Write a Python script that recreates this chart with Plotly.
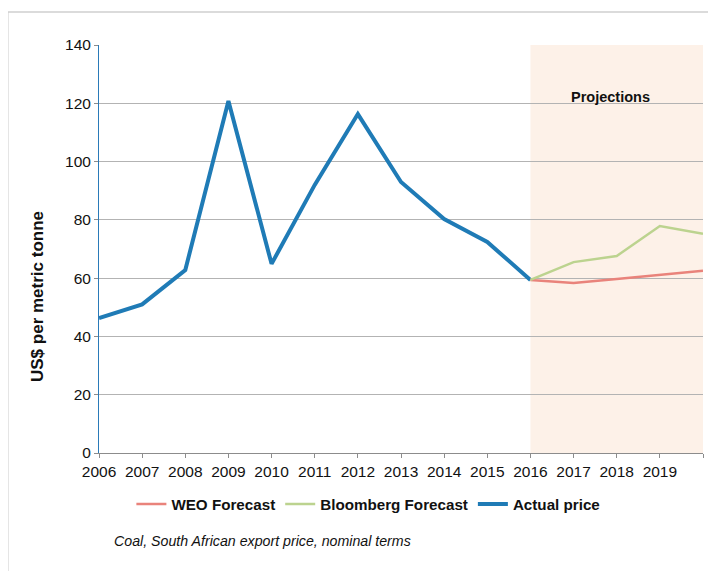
import plotly.graph_objects as go

# Coal, South African export price (US$ per metric tonne)
years_actual = [2006, 2007, 2008, 2009, 2010, 2011, 2012, 2013, 2014, 2015, 2016]
actual_price = [46.3, 51.0, 62.8, 120.8, 64.9, 92.0, 116.3, 93.0, 80.3, 72.4, 59.4]

years_forecast = [2016, 2017, 2018, 2019, 2020]
weo_forecast = [59.4, 58.3, 59.7, 61.0, 62.5]
bloomberg_forecast = [59.4, 65.5, 67.6, 77.9, 75.2]

tick_years = list(range(2006, 2021))
tick_labels = [str(y) for y in range(2006, 2020)] + [""]

font_main = "Liberation Sans, Arial, sans-serif"

fig = go.Figure()

fig.add_trace(go.Scatter(x=years_actual, y=actual_price, mode="lines",
                         name="Actual price", legendrank=3,
                         line=dict(color="#1f7bb6", width=4)))
fig.add_trace(go.Scatter(x=years_forecast, y=weo_forecast, mode="lines",
                         name="WEO Forecast", legendrank=1,
                         line=dict(color="#e9837b", width=2.5)))
fig.add_trace(go.Scatter(x=years_forecast, y=bloomberg_forecast, mode="lines",
                         name="Bloomberg Forecast", legendrank=2,
                         line=dict(color="#bcd38f", width=2.5)))

# projections shading
fig.add_shape(type="rect", x0=2016, x1=2020, y0=0, y1=140, xref="x", yref="y",
              fillcolor="#fdf1e8", line_width=0, layer="below")
fig.add_annotation(x=2017.85, y=122, xref="x", yref="y", text="<b>Projections</b>",
                   showarrow=False, font=dict(family=font_main, size=14.5, color="#111111"))

# outer chart frame (top and left edges visible)
fig.add_shape(type="line", xref="paper", yref="paper", x0=-0.151, x1=1.05,
              y0=1.081, y1=1.081, line=dict(color="#cfcfcf", width=1.5))
fig.add_shape(type="line", xref="paper", yref="paper", x0=-0.151, x1=-0.151,
              y0=1.081, y1=-0.35, line=dict(color="#cfcfcf", width=1.5))

# y-axis title (sits lower than the plot centre in the original)
fig.add_annotation(xref="paper", yref="paper", x=(37 - 99) / 604, y=(453 - 297) / 408,
                   text="<b>US$ per metric tonne</b>", textangle=-90, showarrow=False,
                   xanchor="center", yanchor="middle",
                   font=dict(family=font_main, size=17, color="#111111"))

# caption
fig.add_annotation(xref="paper", yref="paper", x=(112 - 99) / 604, y=(453 - 541) / 408,
                   text="<i>Coal, South African export price, nominal terms</i>",
                   showarrow=False, xanchor="left", yanchor="middle",
                   font=dict(family=font_main, size=14.2, color="#111111"))

fig.update_layout(
    width=716, height=571,
    margin=dict(l=91, r=21, t=37, b=126),
    paper_bgcolor="white", plot_bgcolor="white",
    font=dict(family=font_main, size=15, color="#111111"),
    showlegend=True,
    legend=dict(orientation="h", x=0.446, xanchor="center", y=-0.125, yanchor="middle",
                font=dict(family=font_main, size=15.2, color="#111111", weight="bold"),
                itemwidth=30, traceorder="normal"),
    xaxis=dict(range=[2006, 2020], tickmode="array", tickvals=tick_years, ticktext=tick_labels,
               showgrid=False, zeroline=False, showline=True, linecolor="#8c8c8c", linewidth=1,
               ticks="outside", ticklen=4, tickcolor="#8c8c8c",
               tickfont=dict(family=font_main, size=15.5)),
    yaxis=dict(range=[0, 140], dtick=20, showgrid=True, gridcolor="#b3b3b3", gridwidth=1,
               zeroline=False, showline=True, linecolor="#2a7ab8", linewidth=1,
               ticks="outside", ticklen=4, tickcolor="#8c8c8c",
               tickfont=dict(family=font_main, size=15.5)),
)

fig.write_html("out.html")
